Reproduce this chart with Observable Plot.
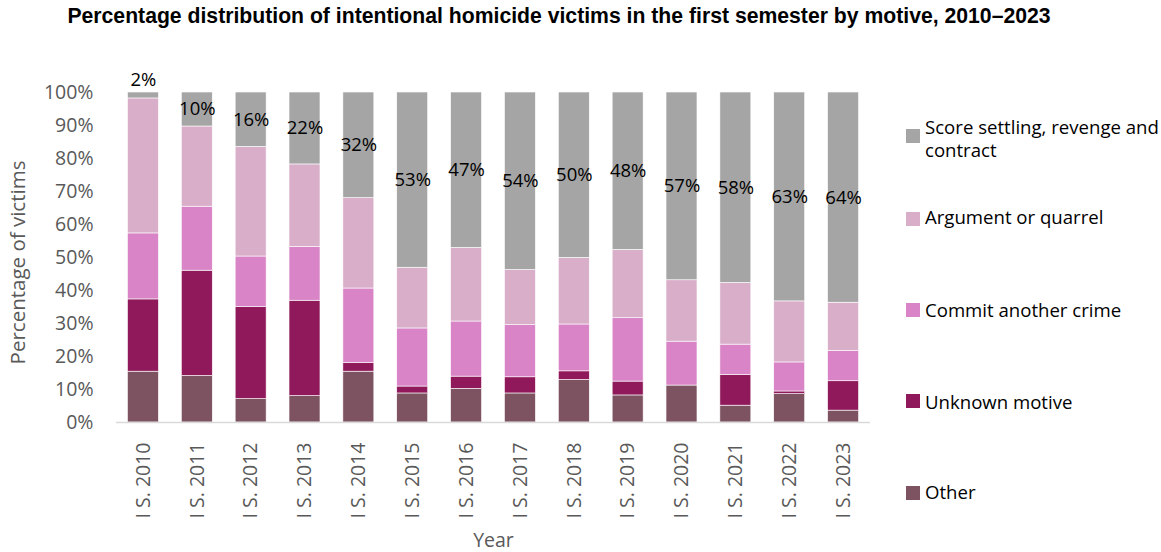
<!DOCTYPE html>
<html>
<head>
<meta charset="utf-8">
<script src="https://cdn.jsdelivr.net/npm/d3@7"></script>
<script src="https://cdn.jsdelivr.net/npm/@observablehq/plot@0.6"></script>
<style>
  body { margin: 0; background: #fff; }
  #wrap { position: relative; width: 1161px; height: 552px; overflow: hidden; font-family: "Open Sans", sans-serif; }
  #title { position: absolute; top: 4px; left: 59px; width: 1000px; text-align: center; font: bold 21.2px "Liberation Sans", Arial, sans-serif; color: #000; white-space: nowrap; }
  #chart { position: absolute; top: 40px; left: 0; }
  .sw { position: absolute; width: 14px; height: 14px; }
  .lt { position: absolute; font-size: 18.6px; color: #000; line-height: 23px; white-space: nowrap; }
</style>
</head>
<body>
<div id="wrap">
  <div id="title">Percentage distribution of intentional homicide victims in the first semester by motive, 2010–2023</div>
  <div id="chart"></div>
  <div id="legend"></div>
</div>
<script>
const years = ["I S. 2010","I S. 2011","I S. 2012","I S. 2013","I S. 2014","I S. 2015","I S. 2016","I S. 2017","I S. 2018","I S. 2019","I S. 2020","I S. 2021","I S. 2022","I S. 2023"];
const motives = ["Other","Unknown motive","Commit another crime","Argument or quarrel","Score settling, revenge and contract"];
const colors = ["#7d5261","#8f195b","#d884c6","#d9aec9","#a5a5a5"];

const other    = [15.4, 14.1,  7.1,  8.0, 15.4,  8.8, 10.2,  8.8, 12.9,  8.2, 11.2,  5.1,  8.6,  3.6];
const unknown  = [21.9, 31.9, 27.9, 28.9,  2.6,  2.1,  3.7,  4.9,  2.6,  4.2,  0.0,  9.3,  0.8,  8.9];
const commit   = [20.0, 19.4, 15.3, 16.3, 22.6, 17.6, 16.7, 15.8, 14.2, 19.2, 13.3,  9.2,  8.8,  9.2];
const argument = [40.9, 24.3, 33.2, 25.0, 27.4, 18.4, 22.3, 16.7, 20.2, 20.7, 18.6, 18.7, 18.5, 14.6];
const score    = [ 1.8, 10.3, 16.5, 21.8, 32.0, 53.1, 47.1, 53.8, 50.1, 47.7, 56.9, 57.7, 63.3, 63.7];
const scoreLabels = ["2%","10%","16%","22%","32%","53%","47%","54%","50%","48%","57%","58%","63%","64%"];

const series = [other, unknown, commit, argument, score];
const rows = years.flatMap((y, i) => motives.map((m, j) => ({year: y, motive: m, value: series[j][i]})));
const labelRows = years.map((y, i) => ({year: y, value: score[i], label: scoreLabels[i]}));

const fontAxis = "'Open Sans', sans-serif";

const chart = Plot.plot({
  width: 1161,
  height: 512,
  marginLeft: 116,
  marginRight: 291,
  marginTop: 52,
  marginBottom: 130,
  style: { fontFamily: fontAxis, fontSize: "19px", color: "#595959", background: "#fff" },
  x: { domain: years, paddingInner: 0.425, paddingOuter: 0.2125, round: false, label: null },
  y: { domain: [0, 100], label: null },
  color: { domain: motives, range: colors },
  marks: [
    Plot.barY(rows, { x: "year", y: "value", fill: "motive", stroke: "#fff", strokeWidth: 0.6 }),
    Plot.ruleY([0], { stroke: "#d9d9d9", strokeWidth: 1.5 }),
    Plot.axisY({ ticks: d3.range(0, 101, 10), tickFormat: d => d + "%", tickSize: 0, tickPadding: 23, fontSize: 19.5, fill: "#595959" }),
    Plot.axisX({ tickRotate: -90, tickSize: 0, tickPadding: 20, fontSize: 19.5, fill: "#595959" }),
    Plot.text(labelRows.filter(d => d.value >= 5), { x: "year", y: d => 100 - d.value / 2, text: "label", fontSize: 18.5, fill: "#000" }),
    Plot.text(labelRows.filter(d => d.value < 5), { x: "year", y: () => 100, text: "label", dy: -12, fontSize: 18.5, fill: "#000" }),
    Plot.text(["Percentage of victims"], { frameAnchor: "left", textAnchor: "middle", rotate: -90, dx: -98, dy: 5, fontSize: 20.5, fill: "#595959" }),
    Plot.text(["Year"], { frameAnchor: "bottom", dy: 124, fontSize: 19.5, fill: "#595959" })
  ]
});
document.getElementById("chart").appendChild(chart);

// legend
const legend = document.getElementById("legend");
const legendItems = [
  { m: 4, sq: 129, tx: 115, text: "Score settling, revenge and<br>contract" },
  { m: 3, sq: 212, tx: 205, text: "Argument or quarrel" },
  { m: 2, sq: 303, tx: 298, text: "Commit another crime" },
  { m: 1, sq: 394, tx: 390, text: "Unknown motive" },
  { m: 0, sq: 486, tx: 480, text: "Other" }
];
for (const it of legendItems) {
  const s = document.createElement("div");
  s.className = "sw";
  s.style.left = "906px"; s.style.top = it.sq + "px"; s.style.background = colors[it.m];
  legend.appendChild(s);
  const t = document.createElement("div");
  t.className = "lt";
  t.style.left = "925px"; t.style.top = it.tx + "px";
  t.innerHTML = it.text;
  legend.appendChild(t);
}
</script>
</body>
</html>
